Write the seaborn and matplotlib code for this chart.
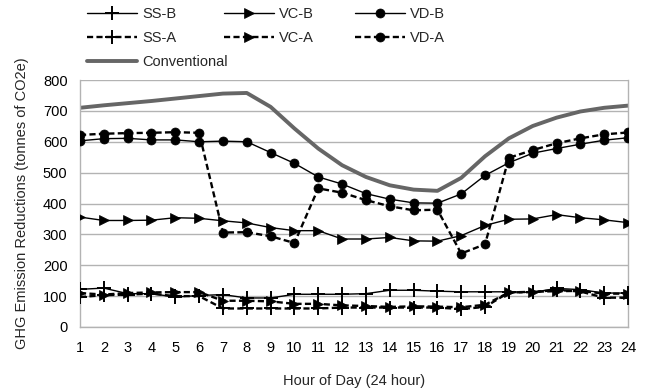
import numpy as np
import pandas as pd
import matplotlib
matplotlib.use("Agg")
import matplotlib.pyplot as plt
import seaborn as sns

# hourly GHG emission reductions (tonnes CO2e)
hours = list(range(1, 25))
ss_b = [122, 126, 108, 108, 97, 102, 105, 94, 94, 106, 106, 106,
        108, 119, 119, 116, 114, 114, 114, 112, 125, 121, 110, 110]
ss_a = [97, 103, 105, 108, 100, 100, 60, 60, 60, 60, 60, 63,
        63, 63, 63, 63, 58, 65, 112, 113, 120, 115, 95, 95]
vc_b = [356, 345, 345, 346, 354, 352, 344, 337, 322, 312, 312, 285,
        285, 290, 279, 278, 296, 329, 349, 350, 364, 354, 347, 338]
vc_a = [110, 105, 110, 112, 113, 113, 85, 85, 83, 75, 75, 70,
        68, 65, 67, 66, 64, 72, 112, 114, 116, 117, 108, 108]
vd_b = [603, 610, 611, 606, 606, 600, 602, 600, 565, 530, 486, 463,
        432, 414, 402, 401, 431, 491, 532, 563, 578, 592, 605, 613]
vd_a = [622, 626, 628, 629, 631, 629, 306, 307, 294, 272, 449, 435,
        411, 391, 378, 380, 238, 268, 548, 573, 595, 611, 624, 630]
conventional = [710, 718, 725, 732, 740, 748, 756, 758, 713, 643, 578, 524,
                486, 459, 445, 441, 483, 553, 611, 651, 678, 698, 710, 717]

series = {
    "SS-B": ss_b, "VC-B": vc_b, "VD-B": vd_b,
    "SS-A": ss_a, "VC-A": vc_a, "VD-A": vd_a,
    "Conventional": conventional,
}
df = pd.DataFrame(
    [(h, name, v) for name, vals in series.items() for h, v in zip(hours, vals)],
    columns=["hour", "series", "value"],
)

sns.set_style("white")
plt.rcParams["font.family"] = ["Liberation Sans", "DejaVu Sans"]
plt.rcParams["font.size"] = 10.5

dash = (0, (2.6, 1.4))
styles = {
    "SS-B": dict(color="black", lw=1.0, ls="-", marker="+", ms=10, mew=1.4),
    "VC-B": dict(color="black", lw=1.0, ls="-", marker=">", ms=6.5, mew=0.5),
    "VD-B": dict(color="black", lw=1.0, ls="-", marker="o", ms=6.5, mew=0.5),
    "SS-A": dict(color="black", lw=1.7, ls=dash, marker="+", ms=10, mew=1.4),
    "VC-A": dict(color="black", lw=1.7, ls=dash, marker=">", ms=6.5, mew=0.5),
    "VD-A": dict(color="black", lw=1.7, ls=dash, marker="o", ms=6.5, mew=0.5),
    "Conventional": dict(color="#666666", lw=2.8, ls="-"),
}

fig = plt.figure(figsize=(6.46, 3.90), dpi=100)
ax = fig.add_axes([80 / 646, 1 - 327 / 390, 548 / 646, 247 / 390])

handles = {}
for name, st in styles.items():
    sub = df[df["series"] == name]
    st = dict(st)
    kws = dict(color=st.pop("color"), linewidth=st.pop("lw"), linestyle=st.pop("ls"))
    if "marker" in st:
        kws.update(marker=st["marker"], markersize=st["ms"], markeredgewidth=st["mew"],
                   markeredgecolor="black", markerfacecolor="black")
    sns.lineplot(data=sub, x="hour", y="value", ax=ax, sort=False, errorbar=None,
                 label=name, zorder=3 if name != "Conventional" else 2, **kws)
    handles[name] = ax.get_lines()[-1]

ax.get_legend().remove()

ax.set_xlim(1, 24)
ax.set_ylim(0, 800)
ax.set_xticks(hours)
ax.set_yticks(np.arange(0, 801, 100))
ax.yaxis.grid(True, color="#b3b3b3", lw=1.0)
ax.set_axisbelow(True)
for side in ["top"]:
    ax.spines[side].set_visible(False)
ax.spines["right"].set_color("#b3b3b3")
ax.spines["left"].set_color("#b3b3b3")
ax.spines["bottom"].set_color("#b3b3b3")
for s in ax.spines.values():
    s.set_linewidth(1.0)
ax.tick_params(axis="both", which="major", length=4, width=1.0, color="#b3b3b3",
               labelsize=10.5, labelcolor="black", direction="out")
ax.tick_params(axis="x", pad=6)
ax.tick_params(axis="y", pad=5)

ax.set_xlabel("Hour of Day (24 hour)", fontsize=10.5, labelpad=14)
ax.set_ylabel("GHG Emission Reductions (tonnes of CO2e)", fontsize=10.5, labelpad=10)

# legend: three columns placed like the reference
leg_kw = dict(frameon=False, handlelength=3.43, handletextpad=0.35, labelspacing=0.68,
              borderpad=0, borderaxespad=0, loc="upper left", fontsize=10.5,
              bbox_transform=fig.transFigure)
cols = [(87, ["SS-B", "SS-A", "Conventional"]),
        (224, ["VC-B", "VC-A"]),
        (355, ["VD-B", "VD-A"])]
for x0, names in cols:
    leg = fig.legend([handles[n] for n in names], names,
                     bbox_to_anchor=(x0 / 646, 1 - 7 / 390), **leg_kw)

fig.savefig("out.png", dpi=100)
